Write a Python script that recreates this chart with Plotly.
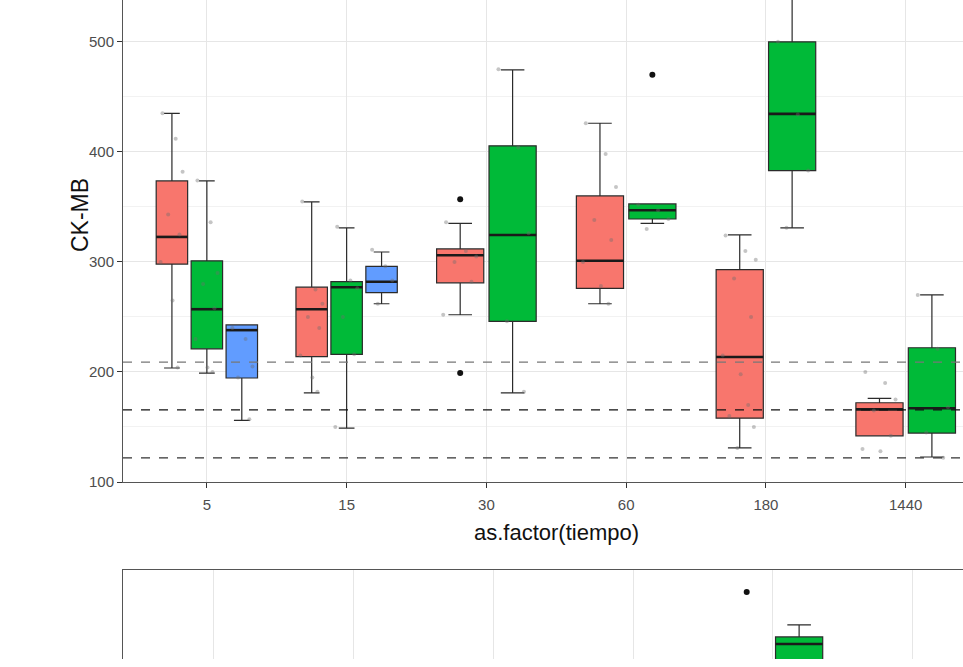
import plotly.graph_objects as go

# ---------------- data ----------------
categories = ["5", "15", "30", "60", "180", "1440"]
groups = ["A", "B", "C"]
group_colors = {"A": "#F8766D", "B": "#00BA38", "C": "#619CFF"}

# box statistics per (category, group): q1, median, q3, lower whisker, upper whisker
box_cat   = ["5", "5", "5", "15", "15", "15", "30", "30", "60", "60", "180", "180", "1440", "1440"]
box_group = ["A", "B", "C", "A", "B", "C", "A", "B", "A", "B", "A", "B", "A", "B"]
box_q1    = [298, 221, 194.5, 214, 216, 272, 281, 246, 276, 339, 158, 383, 142, 144.5]
box_med   = [322.7, 257, 238, 257, 277, 282, 306, 324.5, 301, 347, 213.6, 434.5, 166, 167]
box_q3    = [373.6, 301, 242.7, 277, 282, 296, 311.8, 405.5, 360, 352.7, 293, 500, 172, 222]
box_lo    = [203.6, 199, 156, 181, 149, 262, 252, 181, 262, 335, 131, 331, 142, 122.7]
box_hi    = [435, 373.6, 242.7, 354.5, 331, 309, 335, 474.5, 426, 352.7, 324.5, 590, 176, 270]

# individual observations (faint points) per box, same order as above
box_points = [
    [435, 412, 382, 343, 325, 300, 265, 204],
    [374, 336, 290, 280, 258, 230, 204, 200],
    [240, 230, 205, 195, 157],
    [355, 275, 262, 250, 240, 215, 195, 182],
    [332, 283, 276, 250, 216, 150],
    [311, 296, 283, 262],
    [336, 310, 305, 300, 282, 252],
    [475, 404, 326, 246, 182],
    [426, 398, 368, 338, 320, 300, 278, 262],
    [352, 347, 339, 330],
    [324, 310, 302, 285, 250, 215, 198, 170, 160, 150, 131],
    [500, 434, 383, 331],
    [200, 190, 175, 165, 142, 130, 128],
    [270, 221, 168, 145, 122],
]

# outliers (black points)
out_cat   = ["30", "30", "60"]
out_group = ["A", "A", "B"]
out_val   = [357, 199, 470]

# reference lines
ref_lines = [209, 165.5, 122]
ref_colors = ["#777777", "#111111", "#333333"]

# lower panel (only the top of it is visible)
low_box_cat = ["180"]
low_box_group = ["B"]
low_q1 = [6]
low_med = [17.75]
low_q3 = [21.4]
low_lo = [0]
low_hi = [27.6]
low_out_cat = ["180"]
low_out_group = ["A"]
low_out_val = [44.6]

# groups present in each category (for dodging)
present = {}
for c, g in zip(box_cat, box_group):
    present.setdefault(c, [])
    if g not in present[c]:
        present[c].append(g)

DODGE = 0.75


def pos_width(cat, grp):
    gs = present[cat]
    n = len(gs)
    slot = DODGE / n
    i = gs.index(grp)
    center = categories.index(cat) - DODGE / 2 + slot * (i + 0.5)
    return center, slot * 0.9


fig = go.Figure()

jit = [-0.30, 0.12, 0.34, -0.12, 0.24, -0.36, 0.02, 0.18, -0.22, 0.30, -0.05]


def add_box(cat, grp, q1, med, q3, lo, hi, xa, ya):
    x0, w = pos_width(cat, grp)
    fig.add_trace(go.Box(
        x=[x0], q1=[q1], median=[med], q3=[q3], lowerfence=[lo], upperfence=[hi],
        width=w, fillcolor=group_colors[grp], line=dict(color="#2b2b2b", width=1.2),
        boxpoints=False, showlegend=False, hoverinfo="skip", xaxis=xa, yaxis=ya))
    fig.add_trace(go.Scatter(
        x=[x0 - w / 2, x0 + w / 2], y=[med, med], mode="lines",
        line=dict(color="#1a1a1a", width=2.6), showlegend=False, hoverinfo="skip",
        xaxis=xa, yaxis=ya))


for k in range(len(box_cat)):
    add_box(box_cat[k], box_group[k], box_q1[k], box_med[k], box_q3[k],
            box_lo[k], box_hi[k], "x", "y")

# faint points
for k in range(len(box_cat)):
    x0, w = pos_width(box_cat[k], box_group[k])
    pts = box_points[k]
    xs = [x0 + jit[i % len(jit)] * w for i in range(len(pts))]
    fig.add_trace(go.Scatter(
        x=xs, y=pts, mode="markers",
        marker=dict(size=4, color="rgba(110,110,110,0.4)", symbol="circle"),
        showlegend=False, hoverinfo="skip", xaxis="x", yaxis="y"))

# outliers
ox = [pos_width(c, g)[0] for c, g in zip(out_cat, out_group)]
fig.add_trace(go.Scatter(x=ox, y=out_val, mode="markers",
                         marker=dict(size=6, color="#111111"),
                         showlegend=False, hoverinfo="skip", xaxis="x", yaxis="y"))

# lower panel
for k in range(len(low_box_cat)):
    add_box(low_box_cat[k], low_box_group[k], low_q1[k], low_med[k], low_q3[k],
            low_lo[k], low_hi[k], "x2", "y2")
lox = [pos_width(c, g)[0] for c, g in zip(low_out_cat, low_out_group)]
fig.add_trace(go.Scatter(x=lox, y=low_out_val, mode="markers",
                         marker=dict(size=6, color="#111111"),
                         showlegend=False, hoverinfo="skip", xaxis="x2", yaxis="y2"))

# reference lines
for v, col in zip(ref_lines, ref_colors):
    fig.add_shape(type="line", xref="x domain", yref="y", x0=0, x1=1, y0=v, y1=v,
                  line=dict(color=col, width=1.3, dash="dash"), layer="above")

W, H = 963, 667
HH = 659          # effective drawing height observed in the viewer
L = 123
top_bottom_px = 482
low_top_px = 570

grid = "#E6E6E6"
font = "Liberation Sans, Arial, sans-serif"
tick_font = dict(size=15, color="#4D4D4D", family=font)

fig.update_layout(
    width=W, height=H,
    margin=dict(l=L, r=0, t=0, b=0, pad=0),
    paper_bgcolor="white", plot_bgcolor="white",
    font=dict(family=font, color="#4D4D4D", size=12),
    showlegend=False,
    xaxis=dict(domain=[0, 1], anchor="y", range=[-0.6, 5.41],
               tickmode="array", tickvals=list(range(len(categories))), ticktext=categories,
               showgrid=True, gridcolor=grid, gridwidth=1, zeroline=False,
               showline=True, linecolor="#555555", linewidth=1,
               ticks="outside", ticklen=5, tickcolor="#333333",
               ticklabelstandoff=4, tickfont=tick_font),
    yaxis=dict(domain=[(HH - top_bottom_px) / HH, 1], anchor="x", range=[100, 538],
               tickmode="array", tickvals=[100, 200, 300, 400, 500],
               showgrid=True, gridcolor=grid, gridwidth=1, zeroline=False,
               showline=True, linecolor="#555555", linewidth=1,
               ticks="outside", ticklen=5, tickcolor="#333333",
               tickfont=tick_font,
               minor=dict(tickvals=[150, 250, 350, 450], showgrid=True,
                          gridcolor="#F2F2F2", gridwidth=1, ticks="")),
    xaxis2=dict(domain=[0, 1], anchor="y2", range=[-0.65, 5.36], side="top",
                tickmode="array", tickvals=list(range(len(categories))),
                showticklabels=False, ticks="",
                showgrid=True, gridcolor=grid, zeroline=False,
                showline=True, linecolor="#555555", linewidth=1.2),
    yaxis2=dict(domain=[0, (HH - low_top_px) / HH], anchor="x2", range=[10, 56],
                showticklabels=False, ticks="", showgrid=False, zeroline=False,
                showline=True, linecolor="#555555", linewidth=1.2),
)

plot_w = W - L
fig.add_annotation(text="CK-MB", xref="paper", yref="paper",
                   x=(65 - L) / plot_w, y=(HH - 215) / HH, showarrow=False,
                   textangle=-90, yanchor="middle",
                   font=dict(size=23, color="#111111", family=font))
fig.add_annotation(text="as.factor(tiempo)", xref="paper", yref="paper",
                   x=(556 - L) / plot_w, y=(HH - 532) / HH, showarrow=False,
                   yanchor="middle",
                   font=dict(size=22, color="#111111", family=font))

fig.write_html(
    "out.html",
    config={"displayModeBar": False},
    post_script=(
        "document.body.style.margin='0px';"
        "document.body.style.overflow='hidden';"
    ),
)
